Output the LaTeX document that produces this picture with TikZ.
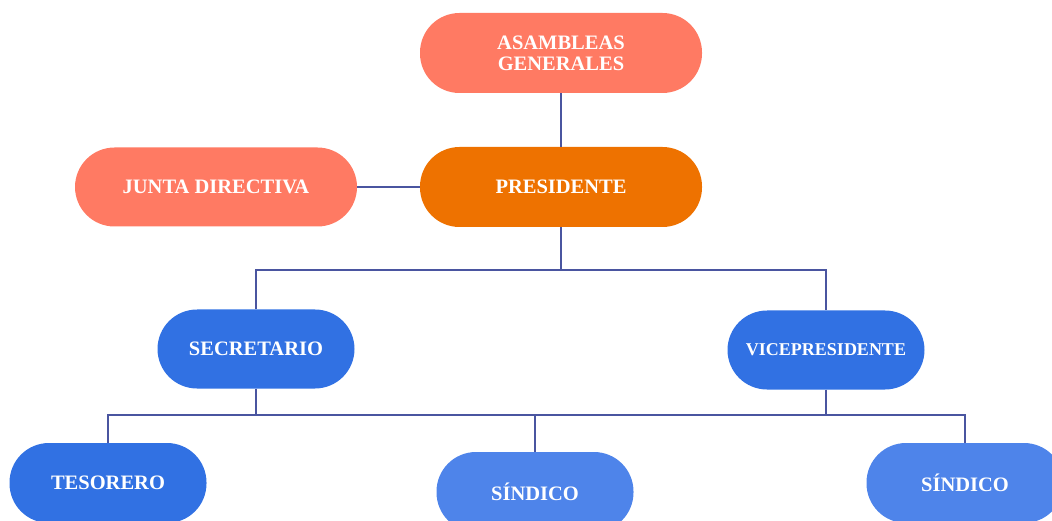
\documentclass[tikz,border=0pt]{standalone}
\usepackage{fontspec}
\setmainfont{Liberation Serif}
\definecolor{salmon}{HTML}{FF7A63}
\definecolor{orangeP}{HTML}{EE7200}
\definecolor{blueA}{HTML}{3171E3}
\definecolor{blueB}{HTML}{4E84EA}
\definecolor{linec}{HTML}{4A55A0}
\begin{document}
\begin{tikzpicture}[x=1pt,y=-1pt,
  box/.style={rectangle, rounded corners=39.5pt, text=white, font=\fontsize{20.5}{21}\selectfont\bfseries, align=center, inner sep=0pt},
  topbox/.style={box, minimum width=282pt, minimum height=80pt},
  bluebox/.style={box, minimum width=197pt, minimum height=79pt},
  conn/.style={draw=linec, line width=1.3pt}]
\useasboundingbox (0,0) rectangle (1052,521);
\clip (0,0) rectangle (1052,521);
\node[topbox, fill=salmon] (asam) at (561,53) {ASAMBLEAS\\GENERALES};
\node[topbox, fill=orangeP] (pres) at (561,187) {PRESIDENTE};
\node[topbox, fill=salmon, minimum height=79pt] (junta) at (216,187) {JUNTA DIRECTIVA};
\node[bluebox, fill=blueA] (sec) at (256,349) {SECRETARIO};
\node[bluebox, fill=blueA, font=\fontsize{18}{20}\selectfont\bfseries] (vice) at (826,350) {VICEPRESIDENTE};
\node[bluebox, fill=blueA, minimum height=80pt] (tes) at (108,483) {TESORERO};
\node[bluebox, fill=blueB, minimum height=80pt] (sin1) at (535,492) {SÍNDICO};
\node[bluebox, fill=blueB, minimum height=80pt] (sin2) at (965,483) {SÍNDICO};
\coordinate (b1) at (561,270);
\coordinate (b2) at (535,415);
\draw[conn] (asam.south) -- (pres.north);
\draw[conn] (junta.east) -- (pres.west);
\draw[conn] (pres.south) -- (b1);
\draw[conn] (sec.north) |- (b1) -| (vice.north);
\draw[conn] (sec.south) -- (sec.south |- b2);
\draw[conn] (vice.south) -- (vice.south |- b2);
\draw[conn] (tes.north) |- (b2) -| (sin2.north);
\draw[conn] (b2) -- (sin1.north);
\end{tikzpicture}
\end{document}
